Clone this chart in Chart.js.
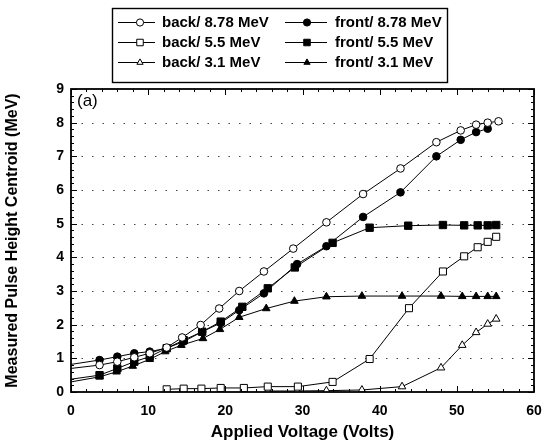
<!DOCTYPE html>
<html>
<head>
<meta charset="utf-8">
<script src="https://cdn.jsdelivr.net/npm/chart.js@4.4.1/dist/chart.umd.min.js"></script>
<style>
  html, body { margin: 0; padding: 0; background: #fff; }
  canvas { display: block; }
</style>
</head>
<body>
<canvas id="c" width="545" height="445"></canvas>
<script>
// Pulse height centroid vs. applied bias, back and front illumination
const backHighX  = [0, 3.7, 6.0, 8.2, 10.2, 12.4, 14.4, 16.8, 19.2, 21.8, 25.0, 28.8, 33.1, 37.85, 42.7, 47.35, 50.5, 52.5, 54.0, 55.4];
const backHighY  = [0.70, 0.80, 0.90, 1.03, 1.15, 1.32, 1.62, 1.99, 2.48, 3.00, 3.58, 4.26, 5.04, 5.88, 6.64, 7.42, 7.77, 7.94, 8.00, 8.04];

const frontHighX = [0, 3.7, 6.0, 8.2, 10.2, 12.4, 14.6, 17.0, 19.4, 21.8, 25.0, 29.3, 33.1, 37.85, 42.7, 47.35, 50.5, 52.5, 54.0];
const frontHighY = [0.82, 0.95, 1.05, 1.15, 1.20, 1.30, 1.50, 1.79, 2.05, 2.43, 2.93, 3.80, 4.33, 5.20, 5.93, 7.00, 7.49, 7.72, 7.82];

const backMidX   = [12.4, 14.6, 16.9, 19.4, 22.4, 25.5, 29.4, 33.9, 38.7, 43.8, 48.2, 50.95, 52.7, 54.0, 55.1];
const backMidY   = [0.08, 0.10, 0.10, 0.12, 0.12, 0.16, 0.16, 0.30, 0.98, 2.49, 3.58, 4.03, 4.30, 4.46, 4.61];

const frontMidX  = [0, 3.7, 6.0, 8.2, 10.2, 12.4, 14.6, 17.0, 19.4, 22.2, 25.5, 29.0, 33.9, 38.7, 43.7, 48.2, 50.95, 52.7, 54.0, 55.1];
const frontMidY  = [0.38, 0.50, 0.70, 0.90, 1.05, 1.30, 1.54, 1.79, 2.09, 2.53, 3.08, 3.70, 4.43, 4.88, 4.94, 4.96, 4.95, 4.95, 4.95, 4.96];

const backLowX   = [25.5, 29.3, 33.1, 37.7, 42.9, 47.95, 50.7, 52.5, 54.0, 55.1];
const backLowY   = [0.03, 0.03, 0.04, 0.06, 0.16, 0.72, 1.39, 1.77, 2.02, 2.17];

const frontLowX  = [0, 3.7, 5.9, 8.0, 10.2, 12.2, 14.3, 17.1, 19.3, 21.8, 25.3, 28.95, 33.1, 37.7, 42.9, 47.95, 50.7, 52.5, 54.0, 55.1];
const frontLowY  = [0.30, 0.45, 0.60, 0.77, 0.97, 1.20, 1.39, 1.59, 1.86, 2.22, 2.48, 2.70, 2.83, 2.85, 2.85, 2.85, 2.84, 2.84, 2.84, 2.84];

const seriesLabels = ['back/ 8.78 MeV', 'front/ 8.78 MeV', 'back/ 5.5 MeV', 'front/ 5.5 MeV', 'back/ 3.1 MeV', 'front/ 3.1 MeV'];
const xTickStep = 10, yTickStep = 1;
const panelTag = '(a)';

const pts = (xs, ys) => xs.map((x, i) => ({ x, y: ys[i] }));

function series(label, xs, ys, style, filled, r) {
  return {
    label,
    data: pts(xs, ys),
    borderColor: '#000',
    borderWidth: 1,
    backgroundColor: filled ? '#000' : '#fff',
    pointStyle: style,
    pointBorderColor: '#000',
    pointBorderWidth: 1,
    pointBackgroundColor: filled ? '#000' : '#fff',
    // the start of each curve sits on the axis without a marker
    pointRadius: ctx => (ctx.raw && ctx.raw.x === 0) ? 0 : r,
    tension: 0,
    fill: false
  };
}

const datasets = [
  series(seriesLabels[0], backHighX, backHighY, 'circle', false, 3.8),
  series(seriesLabels[1], frontHighX, frontHighY, 'circle', true, 3.8),
  series(seriesLabels[2], backMidX, backMidY, 'rect', false, 5.0),
  series(seriesLabels[3], frontMidX, frontMidY, 'rect', true, 5.2),
  series(seriesLabels[4], backLowX, backLowY, 'triangle', false, 4.4),
  series(seriesLabels[5], frontLowX, frontLowY, 'triangle', true, 4.4)
];

function marker(ctx, style, filled, x, y, r) {
  ctx.save();
  ctx.beginPath();
  if (style === 'circle') {
    ctx.arc(x, y, r, 0, Math.PI * 2);
  } else if (style === 'rect') {
    const s = r * Math.SQRT1_2;
    ctx.rect(x - s, y - s, 2 * s, 2 * s);
  } else {
    ctx.moveTo(x, y - r);
    ctx.lineTo(x + r * 0.866, y + r * 0.5);
    ctx.lineTo(x - r * 0.866, y + r * 0.5);
    ctx.closePath();
  }
  ctx.fillStyle = filled ? '#000' : '#fff';
  ctx.fill();
  ctx.lineWidth = 1;
  ctx.strokeStyle = '#000';
  ctx.stroke();
  ctx.restore();
}

// Frame, inward ticks, dotted gridlines, panel tag and the boxed legend
const decorations = {
  id: 'decorations',
  beforeDatasetsDraw(chart) {
    const { ctx, chartArea: a, scales: { y } } = chart;
    ctx.save();
    ctx.strokeStyle = '#444';
    ctx.lineWidth = 1;
    ctx.setLineDash([1.5, 9]);
    for (let v = y.min + yTickStep; v < y.max; v += yTickStep) {
      const py = Math.round(y.getPixelForValue(v)) + 0.5;
      ctx.beginPath();
      ctx.moveTo(a.left, py);
      ctx.lineTo(a.right, py);
      ctx.stroke();
    }
    ctx.restore();
  },
  afterDatasetsDraw(chart) {
    const { ctx, chartArea: a, scales: { x, y } } = chart;
    ctx.save();
    ctx.strokeStyle = '#000';
    ctx.lineWidth = 1;
    // minor and major ticks, pointing into the plot
    for (let v = x.min; v <= x.max + 1e-9; v += 2) {
      const px = Math.round(x.getPixelForValue(v)) + 0.5;
      const len = (Math.abs(v % xTickStep) < 1e-9) ? 6 : 3;
      ctx.beginPath();
      ctx.moveTo(px, a.bottom); ctx.lineTo(px, a.bottom - len);
      ctx.moveTo(px, a.top); ctx.lineTo(px, a.top + len);
      ctx.stroke();
    }
    for (let i = 0; i <= 45; i++) {
      const v = i * 0.2;
      const py = Math.round(y.getPixelForValue(v)) + 0.5;
      const len = (i % 5 === 0) ? 6 : 3;
      ctx.beginPath();
      ctx.moveTo(a.left, py); ctx.lineTo(a.left + len, py);
      ctx.moveTo(a.right, py); ctx.lineTo(a.right - len, py);
      ctx.stroke();
    }
    // plot frame
    ctx.lineWidth = 1.8;
    ctx.strokeRect(a.left, a.top, a.right - a.left, a.bottom - a.top);

    // panel tag
    ctx.fillStyle = '#000';
    ctx.font = '17px "Liberation Sans", Arial, sans-serif';
    ctx.textBaseline = 'middle';
    ctx.textAlign = 'left';
    ctx.fillText(panelTag, a.left + 6, a.top + 12);

    // legend box
    ctx.lineWidth = 1.4;
    ctx.strokeRect(112.5, 8.5, 335, 74);
    const rows = [22, 42, 62];
    const cols = [
      { l0: 118, l1: 155, m: 140, t: 162 },
      { l0: 285, l1: 327, m: 307, t: 335 }
    ];
    ctx.font = 'bold 15px "Liberation Sans", Arial, sans-serif';
    chart.data.datasets.forEach((ds, i) => {
      const c = cols[i % 2], ry = rows[Math.floor(i / 2)];
      ctx.lineWidth = 1;
      ctx.beginPath();
      ctx.moveTo(c.l0, ry + 0.5);
      ctx.lineTo(c.l1, ry + 0.5);
      ctx.stroke();
      const filled = ds.pointBackgroundColor === '#000';
      const r = ds.pointStyle === 'rect' ? 4.6 : 3.6;
      marker(ctx, ds.pointStyle, filled, c.m, ry + 0.5, r);
      ctx.fillStyle = '#000';
      ctx.textBaseline = 'middle';
      ctx.fillText(ds.label, c.t, ry + 1);
    });
    ctx.restore();
  }
};

const tickFont = { family: '"Liberation Sans", Arial, sans-serif', size: 14, weight: 'bold' };
const titleFont = { family: '"Liberation Sans", Arial, sans-serif', size: 16, weight: 'bold' };
const xTitleFont = { family: '"Liberation Sans", Arial, sans-serif', size: 17, weight: 'bold' };

new Chart(document.getElementById('c'), {
  type: 'line',
  data: { datasets },
  options: {
    responsive: false,
    animation: false,
    devicePixelRatio: 1,
    layout: { padding: { top: 89, right: 11, bottom: 0, left: 0 } },
    plugins: { legend: { display: false }, tooltip: { enabled: false } },
    scales: {
      x: {
        type: 'linear',
        min: 0, max: 60,
        ticks: { stepSize: xTickStep, color: '#000', font: tickFont, padding: 11 },
        grid: { display: false, drawTicks: false },
        border: { display: false },
        title: { display: true, text: 'Applied Voltage (Volts)', color: '#000', font: xTitleFont, padding: { top: 0, bottom: 2 } },
        afterFit: s => { s.height = 53; s.paddingLeft = 0; s.paddingRight = 0; }
      },
      y: {
        type: 'linear',
        min: 0, max: 9,
        ticks: { stepSize: yTickStep, color: '#000', font: tickFont, padding: 7 },
        grid: { display: false, drawTicks: false },
        border: { display: false },
        title: { display: true, text: 'Measured Pulse Height Centroid (MeV)', color: '#000', font: titleFont, padding: { top: 3, bottom: 0 } },
        afterFit: s => { s.width = 71; s.paddingTop = 0; s.paddingBottom = 0; }
      }
    }
  },
  plugins: [decorations]
});
</script>
</body>
</html>
